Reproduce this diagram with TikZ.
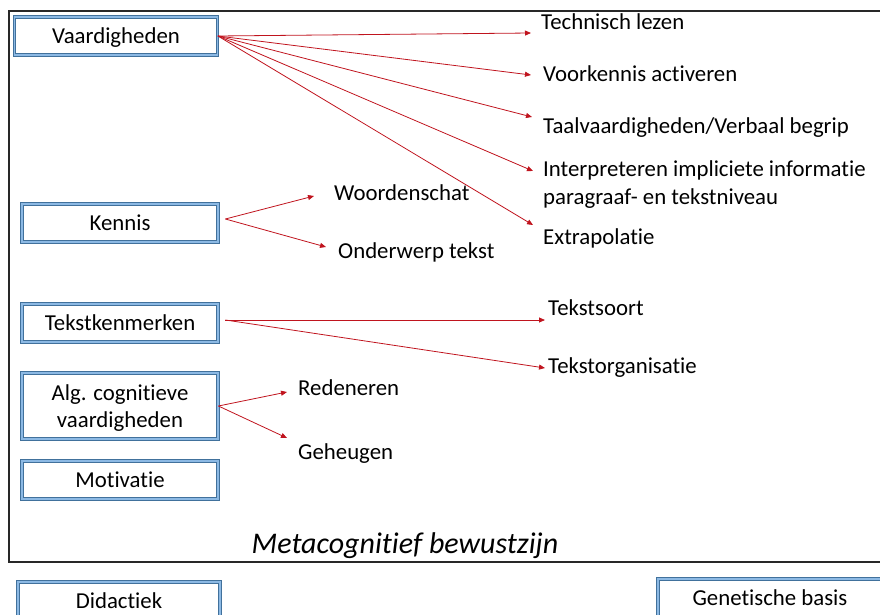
\documentclass[tikz,border=0pt]{standalone}
\usepackage{fontspec}
\setmainfont{Carlito}[Ligatures={NoCommon}]
\usepackage{xcolor}
\usepackage{tikz}
\usetikzlibrary{positioning,calc,arrows.meta}
\definecolor{boxedge}{RGB}{65,113,156}
\definecolor{boxfill}{RGB}{140,185,228}
\definecolor{arrred}{RGB}{192,20,30}
\definecolor{framegray}{RGB}{40,40,40}
\begin{document}
\begin{tikzpicture}[x=1pt, y=-1pt,
		box/.style={draw=boxedge, line width=0.8pt, double=boxfill, double distance=1.8pt, fill=white, minimum width=196pt, minimum height=38pt, align=center, text depth=0pt, font=\fontsize{22.8}{27}\selectfont},
		lbl/.style={anchor=west, inner sep=0pt, align=left, text depth=0pt, font=\fontsize{22.8}{28}\selectfont},
		arr/.style={draw=arrred, line width=0.8pt, -{Triangle[length=6pt, width=5pt]}}]
	\useasboundingbox (0,0) rectangle (880,615);
	\clip (0,0) rectangle (880,615);
	\draw[framegray, line width=1.2pt] (884,11) -- (9,11) -- (9,562) -- (884,562);
	% linker kolom
	\node[box, minimum width=203pt] (vaard) at (116,36) {Vaardigheden};
	\node[box] (kennis) at (120,223) {Kennis};
	\node[box] (tkm) at (120,323) {Tekstkenmerken};
	\node[box, minimum height=66pt] (alg) at (120,406) {Alg. cognitieve\\vaardigheden};
	\node[box] (motiv) at (120,480) {Motivatie};
	\node[box, minimum width=202pt] (didac) at (119,601) {Didactiek};
	\node[box, minimum width=224pt] (genet) at (770,598) {Genetische basis};
	% labels
	\node[lbl] (techn) at (541,22) {Technisch lezen};
	\node[lbl] (voork) at (543,74) {Voorkennis activeren};
	\node[lbl] (taalv) at (543,126) {Taalvaardigheden/Verbaal begrip};
	\node[lbl] (interp) at (543,183) {Interpreteren impliciete informatie\\paragraaf- en tekstniveau};
	\node[lbl] (extra) at (543,237) {Extrapolatie};
	\node[lbl] (woord) at (334,193) {Woordenschat};
	\node[lbl] (onder) at (338,251) {Onderwerp tekst};
	\node[lbl] (tsoort) at (548,308) {Tekstsoort};
	\node[lbl] (torg) at (548,366) {Tekstorganisatie};
	\node[lbl] (reden) at (298,388) {Redeneren};
	\node[lbl] (geheug) at (298,452) {Geheugen};
	\node[text depth=0pt, font=\fontsize{30}{34}\selectfont\itshape] (meta) at (405,543) {Metacognitief bewustzijn};
	% pijlen
	\draw[arr] (vaard.east) -- ($(techn.west)+(-10,11)$);
	\draw[arr] (vaard.east) -- ($(voork.west)+(-12,1)$);
	\draw[arr] (vaard.east) -- ($(taalv.west)+(-11,-9)$);
	\draw[arr] (vaard.east) -- ($(interp.west)+(-10,-12)$);
	\draw[arr] (vaard.east) -- ($(extra.west)+(-10,-12)$);
	\draw[arr] ($(kennis.east)+(7,-4)$) -- ($(woord.west)+(-20,3)$);
	\draw[arr] ($(kennis.east)+(7,-4)$) -- ($(onder.west)+(-12,-4)$);
	\draw[arr] ($(tkm.east)+(7,-3)$) -- ($(tsoort.west)+(-3,12)$);
	\draw[arr] ($(tkm.east)+(7,-3)$) -- ($(torg.west)+(-3,2)$);
	\draw[arr] (alg.east) -- ($(reden.west)+(-11,4)$);
	\draw[arr] (alg.east) -- ($(geheug.west)+(-11,-14)$);
\end{tikzpicture}
\end{document}
